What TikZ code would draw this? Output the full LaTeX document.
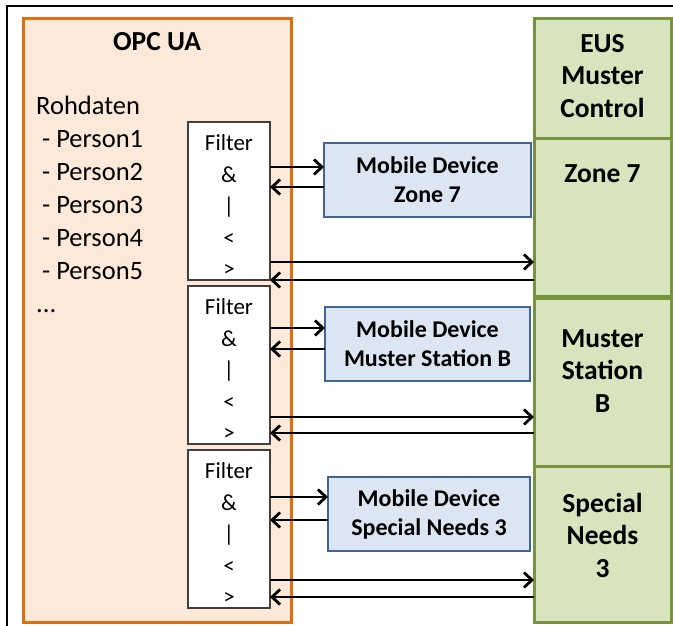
\documentclass[tikz,border=0pt]{standalone}
\usepackage{fontspec}
\setmainfont{Carlito}
\usetikzlibrary{arrows.meta,positioning}
\definecolor{opcorange}{RGB}{228,108,10}
\definecolor{opcfill}{RGB}{252,233,218}
\definecolor{mobblue}{RGB}{65,100,145}
\definecolor{mobfill}{RGB}{220,230,242}
\definecolor{eusgreen}{RGB}{119,147,60}
\definecolor{eusfill}{RGB}{215,228,189}
\newcommand{\filtertext}{\rule{0pt}{25pt}Filter\\\&\\|\\<\\>}
\tikzset{
  box/.style={draw, anchor=north west, inner sep=0pt, outer sep=0pt},
  filterbox/.style={box, draw=black!75, line width=1.5pt, fill=white, minimum width=82pt, minimum height=158pt, align=center, font=\fontsize{23}{31.5}\selectfont},
  mobile/.style={box, draw=mobblue, line width=2.5pt, fill=mobfill, minimum height=74pt, align=center, font=\fontsize{24}{29}\selectfont\bfseries},
  zone/.style={box, draw=eusgreen, line width=3pt, fill=eusfill, minimum width=137pt},
  zonetxt/.style={anchor=north, align=center, inner sep=0pt, font=\fontsize{27.5}{32.5}\selectfont\bfseries},
  rawtxt/.style={anchor=base west, inner sep=0pt, font=\fontsize{26.5}{30}\selectfont},
  link/.style={->, line width=2.8pt},
  >={Straight Barb[length=8pt,width=15pt]}
}

\begin{document}
\begin{tikzpicture}[x=1pt,y=-1pt]
\useasboundingbox (0,0) rectangle (673,626);
\draw[line width=2pt] (7,626) -- (7,6) -- (673,6);

\node[box, draw=opcorange, fill=opcfill, line width=3pt, minimum width=268pt, minimum height=603pt] (opc) at (23,19) {};
\node[font=\fontsize{27.5}{32}\selectfont\bfseries] (opctitle) at (157,42) {OPC UA};
\node[rawtxt] (raw) at (36,115) {Rohdaten};
\foreach \i in {1,...,5}
  \node[rawtxt] (p\i) at (42,115+32.8*\i) {- Person\i};
\node[rawtxt] (more) at (36,312) {...};

\node[filterbox] (f1) at (188,122) {\filtertext};
\node[filterbox] (f2) at (188,286) {\filtertext};
\node[filterbox] (f3) at (188,450) {\filtertext};

\node[mobile, minimum width=207pt] (m1) at (324,143) {Mobile Device\\Zone 7};
\node[mobile, minimum width=205pt] (m2) at (325,307) {Mobile Device\\Muster Station B};
\node[mobile, minimum width=202pt] (m3) at (328,477) {Mobile Device\\Special Needs 3};

\node[zone, minimum height=120pt] (z0) at (534,19) {};
\node[zone, minimum height=157pt] (z1) at (534,139) {};
\node[zone, minimum height=168pt] (z2) at (534,298) {};
\node[zone, minimum height=156pt] (z3) at (534,466) {};
\node[zonetxt] (z0txt) at (602.5,34) {EUS\\Muster\\Control};
\node[zonetxt] (z1txt) at (602.5,164) {Zone 7};
\node[zonetxt] (z2txt) at (602.5,329) {Muster\\Station\\B};
\node[zonetxt] (z3txt) at (602.5,493) {Special\\Needs\\3};

\coordinate (a1) at (0,167); \coordinate (b1) at (0,187);
\coordinate (c1) at (0,262); \coordinate (d1) at (0,280);
\coordinate (a2) at (0,328); \coordinate (b2) at (0,349);
\coordinate (c2) at (0,417); \coordinate (d2) at (0,433);
\coordinate (a3) at (0,497); \coordinate (b3) at (0,520);
\coordinate (c3) at (0,580); \coordinate (d3) at (0,597);

\draw[link] (f1.east |- a1) -- (m1.west |- a1);
\draw[link] (m1.west |- b1) -- (f1.east |- b1);
\draw[link] (f1.east |- c1) -- (z1.west |- c1);
\draw[link] (z1.west |- d1) -- (f1.east |- d1);

\draw[link] (f2.east |- a2) -- (m2.west |- a2);
\draw[link] (m2.west |- b2) -- (f2.east |- b2);
\draw[link] (f2.east |- c2) -- (z2.west |- c2);
\draw[link] (z2.west |- d2) -- (f2.east |- d2);

\draw[link] (f3.east |- a3) -- (m3.west |- a3);
\draw[link] (m3.west |- b3) -- (f3.east |- b3);
\draw[link] (f3.east |- c3) -- (z3.west |- c3);
\draw[link] (z3.west |- d3) -- (f3.east |- d3);
\end{tikzpicture}
\end{document}
